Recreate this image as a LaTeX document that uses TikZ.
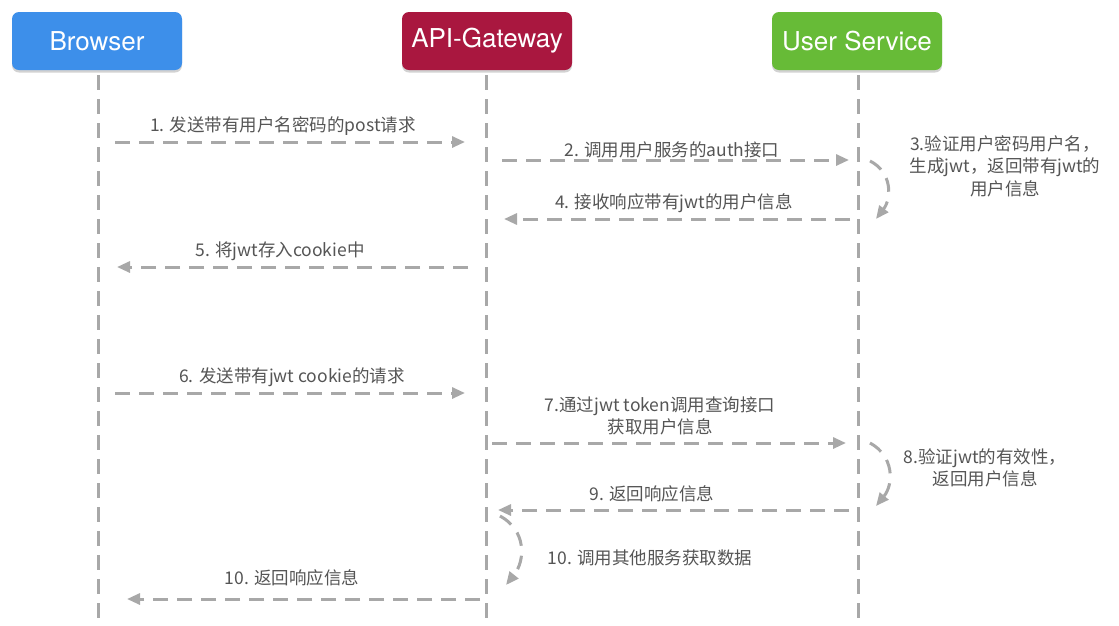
\documentclass[tikz,border=0pt]{standalone}
\usepackage{fontspec}
\setmainfont{Noto Sans CJK SC}
\newfontfamily\headfont{TeX Gyre Heros}
\usetikzlibrary{arrows.meta,shadows}
\definecolor{browserblue}{HTML}{3D8FEA}
\definecolor{gatewayred}{HTML}{A9173F}
\definecolor{servicegreen}{HTML}{67BB37}
\definecolor{linegray}{HTML}{A8A8A8}
\definecolor{textgray}{HTML}{555555}
\tikzstyle{actor}=[rounded corners=7pt,minimum width=170pt,minimum height=58pt,text=white,
  font=\headfont\fontsize{26}{28}\selectfont,
  drop shadow={opacity=0.35,shadow xshift=0pt,shadow yshift=-2.5pt}]
\tikzstyle{lifeline}=[draw=linegray,line width=3pt,dash pattern=on 15pt off 9pt]
\tikzstyle{message}=[lifeline,-{Triangle[length=13pt,width=11pt]}]
\tikzstyle{selfcall}=[lifeline,dash pattern=on 14pt off 10pt,-{Triangle[length=13pt,width=11pt]}]
\tikzstyle{msglabel}=[text=textgray,font=\fontsize{17.5}{22.5}\selectfont,align=center,inner sep=0pt]
% #1 name, #2 start x, #3 end x, #4 y
\newcommand{\drawmsg}[4]{
  \coordinate (#1s) at (#2,#4);
  \coordinate (#1e) at (#3,#4);
  \draw[message] (#1s) -- (#1e);
}

\begin{document}
\begin{tikzpicture}[x=1pt,y=-1pt]
  \useasboundingbox[fill=white] (0,0) rectangle (1119,625);
  % lifelines
  \foreach \name/\x in {bl/98,gl/486,ul/858} {
    \coordinate (\name top) at (\x,75);
    \coordinate (\name bot) at (\x,618);
    \draw[lifeline] (\name top) -- (\name bot);
  }
  % actors
  \node[actor,fill=browserblue] (browser) at (97,41) {Browser};
  \node[actor,fill=gatewayred] (gateway) at (487,41) {API-Gateway};
  \node[actor,fill=servicegreen] (userservice) at (857,41) {User Service};

  % login
  \drawmsg{m1}{115}{465}{142}
  \node[msglabel] (l1) at (283,126) {1. 发送带有用户名密码的post请求};
  \drawmsg{m2}{502}{849}{160}
  \node[msglabel] (l2) at (672,150) {2. 调用用户服务的auth接口};
  \coordinate (c3s) at (870,161);
  \coordinate (c3e) at (876,219);
  \draw[selfcall] (c3s) .. controls (892,172) and (892,198) .. (c3e);
  \node[msglabel] (l3) at (1005,166) {3.验证用户密码用户名，\\生成jwt，返回带有jwt的\\用户信息};
  \drawmsg{m4}{850}{504}{219}
  \node[msglabel] (l4) at (674,203) {4. 接收响应带有jwt的用户信息};
  \drawmsg{m5}{468}{117}{267}
  \node[msglabel] (l5) at (280,251) {5. 将jwt存入cookie中};

  % request with cookie
  \drawmsg{m6}{115}{465}{393}
  \node[msglabel] (l6) at (292,377) {6. 发送带有jwt cookie的请求};
  \drawmsg{m7}{492}{846}{443}
  \node[msglabel] (l7) at (660,416) {7.通过jwt token调用查询接口\\获取用户信息};
  \coordinate (c8s) at (870,443);
  \coordinate (c8e) at (876,506);
  \draw[selfcall] (c8s) .. controls (894,456) and (894,484) .. (c8e);
  \node[msglabel] (l8) at (985,468) {8.验证jwt的有效性，\\返回用户信息};
  \drawmsg{m9}{849}{498}{510}
  \node[msglabel] (l9) at (652,494) {9. 返回响应信息};
  \coordinate (c10s) at (500,516);
  \coordinate (c10e) at (506,585);
  \draw[selfcall] (c10s) .. controls (526,530) and (526,560) .. (c10e);
  \node[msglabel] (l10a) at (650,558) {10. 调用其他服务获取数据};
  \drawmsg{m10}{480}{127}{599}
  \node[msglabel] (l10b) at (292,578) {10. 返回响应信息};
\end{tikzpicture}
\end{document}
